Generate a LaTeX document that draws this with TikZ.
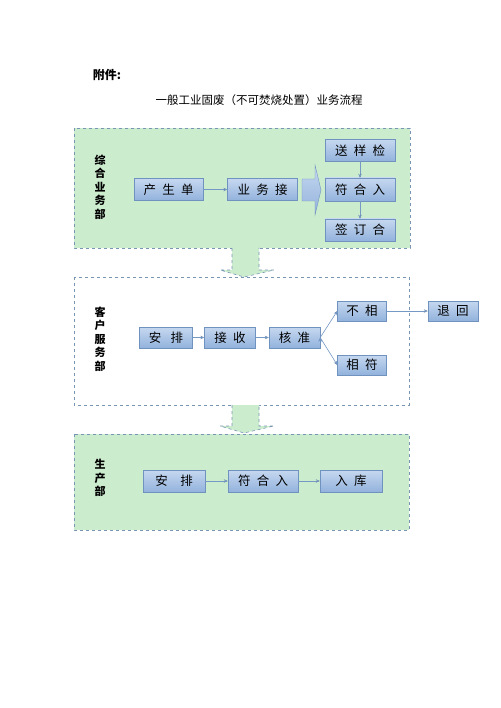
\documentclass[tikz,border=0pt]{standalone}
\usepackage{fontspec}
\setmainfont{Noto Sans CJK SC}
\usetikzlibrary{arrows.meta}
\definecolor{boxline}{RGB}{112,146,190}
\definecolor{boxtop}{RGB}{198,216,240}
\definecolor{boxbot}{RGB}{146,178,220}
\definecolor{panelgreen}{RGB}{204,236,206}
\definecolor{dashline}{RGB}{120,150,180}
\definecolor{arrowline}{RGB}{118,152,196}

\begin{document}
\begin{tikzpicture}[x=1pt, y=-1pt,
	box/.style={draw=boxline, top color=boxtop, bottom color=boxbot,
				minimum height=22pt, inner sep=0pt, text=black,
				font=\fontsize{12.5}{12.5}\selectfont\addfontfeature{LetterSpace=50}},
	panel/.style={draw=dashline, dashed, line width=0.6pt},
	dept/.style={align=center, font=\fontsize{11}{13.5}\selectfont\bfseries},
	link/.style={draw=arrowline, line width=0.6pt,
				 -{Stealth[length=4pt, width=3.5pt]}}]
	\useasboundingbox (0,0) rectangle (500,708);

	% title
	\node[font=\fontsize{12}{12}\selectfont\bfseries] (fujian) at (107,75) {附件:};
	\node[font=\fontsize{11.5}{12}\selectfont] (title) at (259,100)
		{一般工业固废（不可焚烧处置）业务流程};

	% panels
	\draw[panel, fill=panelgreen] (74,128) rectangle (410,248);
	\draw[panel] (74,277) rectangle (409,405);
	\draw[panel, fill=panelgreen] (74,434) rectangle (409,530);
	\draw[panel, fill=panelgreen] (232,248) -- (232,270) -- (220,270) -- (244,277)
		-- (274,270) -- (259,270) -- (259,248);
	\draw[panel, fill=panelgreen] (232,405) -- (232,426) -- (220,426) -- (244,433)
		-- (274,426) -- (259,426) -- (259,405);

	% 综合业务部
	\node[dept] (zh) at (100,187) {综\\合\\业\\务\\部};
	\node[box, minimum width=69pt] (cs) at (168.5,189.5) {产生单};
	\node[box, minimum width=70pt] (yw) at (262.5,189.5) {业务接};
	\node[box, minimum width=70pt] (sy) at (360,150.5) {送样检};
	\node[box, minimum width=70pt, minimum height=23pt] (fh) at (360,189.5) {符合入};
	\node[box, minimum width=70pt] (qd) at (360,230) {签订合};
	\draw[draw=boxline, top color=boxtop, bottom color=boxbot]
		(302,179) -- (315,179) -- (315,165) -- (321,190) -- (315,215)
		-- (315,201) -- (302,201) -- cycle;
	\path[link] (cs) edge (yw);
	\path[link] (sy) edge (fh);
	\path[link] (fh) edge (qd);

	% 客户服务部
	\node[dept] (kf) at (100,339) {客\\户\\服\\务\\部};
	\node[box, minimum width=53pt, minimum height=21pt] (ap) at (166,337.5) {安\ 排};
	\node[box, minimum width=51pt, minimum height=21pt] (js) at (230,337.5) {接收};
	\node[box, minimum width=51pt, minimum height=21pt] (hz) at (294.5,337.5) {核准};
	\node[box, minimum width=49pt, minimum height=20pt] (bx) at (362,311) {不相};
	\node[box, minimum width=49pt, minimum height=20pt] (xf) at (362,365) {相符};
	\node[box, minimum width=50pt, minimum height=20pt] (th) at (453,311) {退回};
	\path[link] (ap) edge (js);
	\path[link] (js) edge (hz);
	\path[link] (hz.east) edge (bx.west);
	\path[link] (hz.east) edge (xf.west);
	\path[link] (bx) edge (th);

	% 生产部
	\node[dept] (sc) at (100,478) {生\\产\\部};
	\node[box, minimum width=62pt] (ap2) at (174,481) {安\quad 排};
	\node[box, minimum width=70pt] (fh2) at (263,481) {符合入};
	\node[box, minimum width=62pt] (rk) at (351,481) {入库};
	\path[link] (ap2) edge (fh2);
	\path[link] (fh2) edge (rk);
\end{tikzpicture}
\end{document}
